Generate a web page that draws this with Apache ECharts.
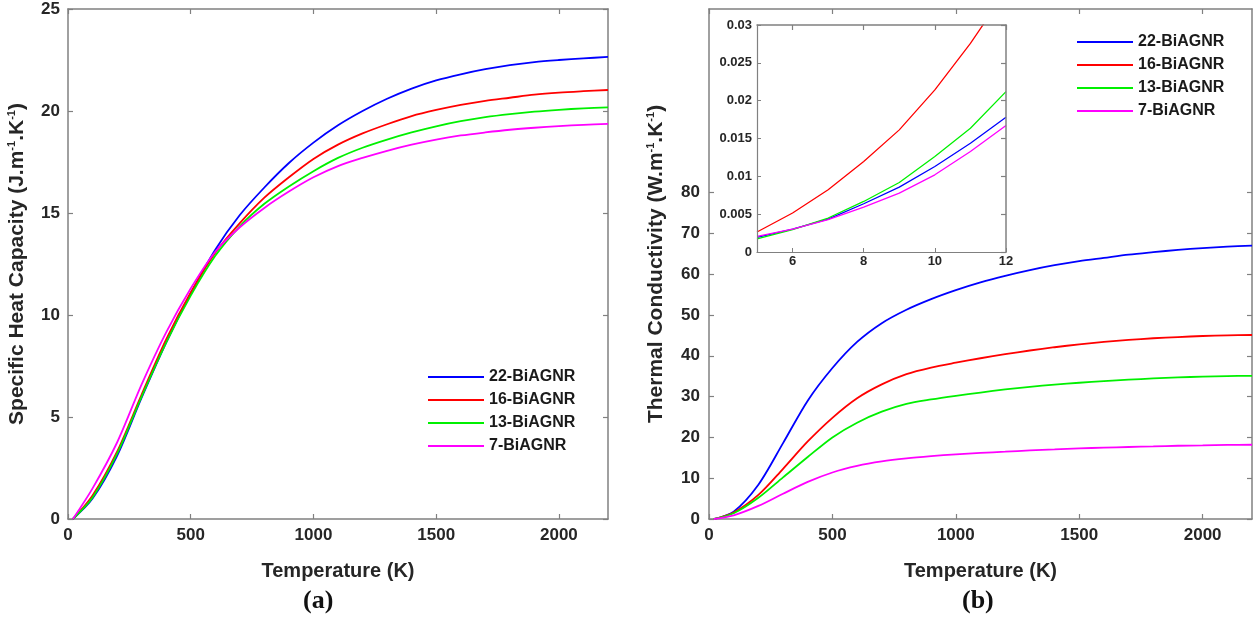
<!DOCTYPE html>
<html>
<head>
<meta charset="utf-8">
<script src="https://cdn.jsdelivr.net/npm/echarts@6/dist/echarts.min.js"></script>
<style>
html,body{margin:0;padding:0;background:#fff;}
#main{width:1257px;height:620px;}
</style>
</head>
<body>
<div id="main"></div>
<script>
// ---------- DATA ----------
const seriesNames = ['22-BiAGNR', '16-BiAGNR', '13-BiAGNR', '7-BiAGNR'];
const seriesColors = ['#0000FF', '#FF0000', '#00F000', '#FF00FF'];

// temperature grid (K) shared by the main panels
const temps = [20, 100, 200, 300, 400, 500, 600, 700, 800, 900, 1000, 1100, 1200, 1300, 1400, 1500, 1600, 1700, 1800, 1900, 2000, 2100, 2200];

// (a) Specific heat capacity (J.m-1.K-1)
const cp22 = [0, 1.0, 3.1, 5.95, 8.65, 11.05, 13.2, 14.9, 16.25, 17.45, 18.45, 19.3, 20.0, 20.6, 21.1, 21.5, 21.8, 22.05, 22.25, 22.4, 22.5, 22.58, 22.65];
const cp16 = [0, 1.15, 3.3, 6.1, 8.8, 11.1, 13.05, 14.5, 15.75, 16.75, 17.65, 18.35, 18.9, 19.35, 19.75, 20.05, 20.3, 20.5, 20.65, 20.8, 20.9, 20.97, 21.03];
const cp13 = [0, 1.05, 3.2, 6.0, 8.65, 10.95, 12.9, 14.35, 15.45, 16.3, 17.05, 17.7, 18.2, 18.6, 18.95, 19.25, 19.5, 19.7, 19.85, 19.97, 20.06, 20.13, 20.18];
const cp7  = [0, 1.5, 3.75, 6.6, 9.15, 11.3, 13.1, 14.3, 15.25, 16.05, 16.75, 17.3, 17.7, 18.05, 18.35, 18.6, 18.8, 18.95, 19.08, 19.18, 19.26, 19.32, 19.37];

// (b) Thermal conductivity (W.m-1.K-1)
const k22 = [0, 1.8, 8.4, 18.6, 29.0, 37.0, 43.4, 48.0, 51.3, 53.9, 56.1, 58.0, 59.6, 61.0, 62.2, 63.2, 64.0, 64.8, 65.4, 65.95, 66.4, 66.75, 67.0];
const k16 = [0, 1.6, 5.9, 12.3, 19.0, 24.8, 29.6, 33.0, 35.5, 37.1, 38.3, 39.4, 40.4, 41.3, 42.1, 42.8, 43.4, 43.9, 44.3, 44.6, 44.85, 45.0, 45.1];
const k13 = [0, 1.4, 5.2, 10.2, 15.2, 20.0, 23.6, 26.3, 28.2, 29.3, 30.2, 31.0, 31.75, 32.4, 32.95, 33.4, 33.8, 34.15, 34.45, 34.7, 34.9, 35.02, 35.1];
const k7  = [0, 0.9, 3.2, 6.2, 9.1, 11.4, 13.0, 14.1, 14.85, 15.4, 15.85, 16.2, 16.5, 16.8, 17.05, 17.3, 17.5, 17.65, 17.8, 17.95, 18.05, 18.15, 18.2];

// (b) inset: low temperature (K)
const tempInset = [5, 6, 7, 8, 9, 10, 11, 12];
const ki22 = [0.00194, 0.00303, 0.00435, 0.00638, 0.00858, 0.0113, 0.01438, 0.01781];
const ki16 = [0.00264, 0.00515, 0.00822, 0.01196, 0.01614, 0.02142, 0.02757, 0.0345];
const ki13 = [0.00172, 0.00295, 0.00449, 0.00668, 0.00919, 0.01262, 0.01636, 0.0212];
const ki7  = [0.00207, 0.00303, 0.00427, 0.00594, 0.00778, 0.0102, 0.01328, 0.01671];

// tick labels
const ticksX = [0, 500, 1000, 1500, 2000];
const ticksYA = [0, 5, 10, 15, 20, 25];
const ticksYB = [0, 10, 20, 30, 40, 50, 60, 70, 80];
const ticksInsetX = [6, 8, 10, 12];
const ticksInsetY = [0, 0.005, 0.01, 0.015, 0.02, 0.025, 0.03];

// ---------- CHART ----------
const FONT = '"Liberation Sans", Arial, sans-serif';
const AXIS_COLOR = '#808080';
const TEXT_COLOR = '#262626';
const plain = v => String(+v.toFixed(4));

function pairs(xs, ys) { return xs.map((x, i) => [x, ys[i]]); }

function mainAxisX(gridIndex, name) {
  return {
    type: 'value', gridIndex, min: 0, max: 2200, interval: 500,
    name, nameLocation: 'middle', nameGap: 42,
    nameTextStyle: { fontFamily: FONT, fontWeight: 'bold', fontSize: 20, color: TEXT_COLOR },
    axisLine: { show: true, onZero: false, lineStyle: { color: AXIS_COLOR, width: 1.5 } },
    axisTick: { show: true, inside: true, length: 5, lineStyle: { color: AXIS_COLOR, width: 1.2 }, customValues: ticksX },
    axisLabel: { fontFamily: FONT, fontWeight: 'bold', fontSize: 17, color: TEXT_COLOR, margin: 8, customValues: ticksX, formatter: plain },
    splitLine: { show: false }
  };
}
function boxAxisX(gridIndex, min, max, ticks) {
  return {
    type: 'value', gridIndex, min, max, position: 'top',
    axisLine: { show: true, onZero: false, lineStyle: { color: AXIS_COLOR, width: 1.5 } },
    axisTick: { show: true, inside: true, length: 5, lineStyle: { color: AXIS_COLOR, width: 1.2 }, customValues: ticks },
    axisLabel: { show: false },
    splitLine: { show: false }
  };
}
function boxAxisY(gridIndex, min, max, ticks) {
  return {
    type: 'value', gridIndex, min, max, position: 'right',
    axisLine: { show: true, onZero: false, lineStyle: { color: AXIS_COLOR, width: 1.5 } },
    axisTick: { show: true, inside: true, length: 5, lineStyle: { color: AXIS_COLOR, width: 1.2 }, customValues: ticks },
    axisLabel: { show: false },
    splitLine: { show: false }
  };
}

const richSup = {
  sup: { fontFamily: FONT, fontWeight: 'bold', fontSize: 11, color: TEXT_COLOR, verticalAlign: 'top', lineHeight: 22, padding: [0, 0, 8, 0] }
};

const chart = echarts.init(document.getElementById('main'), null, { renderer: 'canvas' });

const series = [];
const dataA = [cp22, cp16, cp13, cp7];
const dataB = [k22, k16, k13, k7];
const dataI = [ki22, ki16, ki13, ki7];
seriesNames.forEach((n, i) => {
  series.push({ name: n, type: 'line', xAxisIndex: 0, yAxisIndex: 0, data: pairs(temps, dataA[i]),
    smooth: 0.3, showSymbol: false, symbol: 'none', lineStyle: { color: seriesColors[i], width: 1.8 }, itemStyle: { color: seriesColors[i] }, z: 3 });
});
seriesNames.forEach((n, i) => {
  series.push({ name: n, type: 'line', xAxisIndex: 1, yAxisIndex: 1, data: pairs(temps, dataB[i]),
    smooth: 0.3, showSymbol: false, symbol: 'none', lineStyle: { color: seriesColors[i], width: 1.8 }, itemStyle: { color: seriesColors[i] }, z: 3 });
});
seriesNames.forEach((n, i) => {
  series.push({ name: n, type: 'line', xAxisIndex: 2, yAxisIndex: 2, data: pairs(tempInset, dataI[i]),
    smooth: false, clip: true, showSymbol: false, symbol: 'none', lineStyle: { color: seriesColors[i], width: 1.3 }, itemStyle: { color: seriesColors[i] }, z: 12 });
});

const legendCommon = {
  orient: 'vertical', itemWidth: 56, itemHeight: 14, itemGap: 7, padding: 0,
  itemStyle: { opacity: 0 },
  lineStyle: { width: 2 },
  textStyle: { fontFamily: FONT, fontWeight: 'bold', fontSize: 16, color: '#1a1a1a' },
  data: seriesNames,
  selectedMode: false
};

const option = {
  backgroundColor: '#ffffff',
  animation: false,
  grid: [
    { left: 68, top: 9, width: 540, height: 510, containLabel: false },
    { left: 709, top: 9, width: 543, height: 510, containLabel: false },
    { left: 757, top: 25, width: 249, height: 227, containLabel: false, show: true, backgroundColor: '#ffffff', borderWidth: 0, z: 10 }
  ],
  legend: [
    Object.assign({}, legendCommon, { left: 427, top: 369 }),
    Object.assign({}, legendCommon, { left: 1076, top: 34 })
  ],
  xAxis: [
    mainAxisX(0, 'Temperature (K)'),
    mainAxisX(1, 'Temperature (K)'),
    {
      type: 'value', gridIndex: 2, min: 5, max: 12, interval: 1, z: 13,
      axisLine: { show: true, onZero: false, lineStyle: { color: AXIS_COLOR, width: 1.2 } },
      axisTick: { show: true, inside: true, length: 4, lineStyle: { color: AXIS_COLOR }, customValues: ticksInsetX },
      axisLabel: { fontFamily: FONT, fontWeight: 'bold', fontSize: 13, color: TEXT_COLOR, margin: 3, customValues: ticksInsetX, formatter: plain },
      splitLine: { show: false }
    },
    boxAxisX(0, 0, 2200, ticksX),
    boxAxisX(1, 0, 2200, ticksX),
    Object.assign(boxAxisX(2, 5, 12, ticksInsetX), { z: 13 })
  ],
  yAxis: [
    {
      type: 'value', gridIndex: 0, min: 0, max: 25, interval: 5,
      name: 'Specific Heat Capacity (J.m{sup|-1}.K{sup|-1})', nameLocation: 'middle', nameRotate: 90, nameGap: 40,
      nameTextStyle: { fontFamily: FONT, fontWeight: 'bold', fontSize: 21, color: TEXT_COLOR, lineHeight: 22, rich: richSup },
      axisLine: { show: true, onZero: false, lineStyle: { color: AXIS_COLOR, width: 1.5 } },
      axisTick: { show: true, inside: true, length: 5, lineStyle: { color: AXIS_COLOR, width: 1.2 }, customValues: ticksYA },
      axisLabel: { fontFamily: FONT, fontWeight: 'bold', fontSize: 17, color: TEXT_COLOR, margin: 8, customValues: ticksYA, formatter: plain },
      splitLine: { show: false }
    },
    {
      type: 'value', gridIndex: 1, min: 0, max: 125, interval: 10,
      name: 'Thermal Conductivity (W.m{sup|-1}.K{sup|-1})', nameLocation: 'middle', nameRotate: 90, nameGap: 42,
      nameTextStyle: { fontFamily: FONT, fontWeight: 'bold', fontSize: 21, color: TEXT_COLOR, lineHeight: 22, rich: richSup },
      axisLine: { show: true, onZero: false, lineStyle: { color: AXIS_COLOR, width: 1.5 } },
      axisTick: { show: true, inside: true, length: 5, lineStyle: { color: AXIS_COLOR, width: 1.2 }, customValues: ticksYB },
      axisLabel: { fontFamily: FONT, fontWeight: 'bold', fontSize: 17, color: TEXT_COLOR, margin: 9, customValues: ticksYB, formatter: plain },
      splitLine: { show: false }
    },
    {
      type: 'value', gridIndex: 2, min: 0, max: 0.03, interval: 0.005, z: 13,
      axisLine: { show: true, onZero: false, lineStyle: { color: AXIS_COLOR, width: 1.2 } },
      axisTick: { show: true, inside: true, length: 4, lineStyle: { color: AXIS_COLOR }, customValues: ticksInsetY },
      axisLabel: { fontFamily: FONT, fontWeight: 'bold', fontSize: 13, color: TEXT_COLOR, margin: 5, customValues: ticksInsetY, formatter: plain },
      splitLine: { show: false }
    },
    boxAxisY(0, 0, 25, ticksYA),
    boxAxisY(1, 0, 125, ticksYB),
    Object.assign(boxAxisY(2, 0, 0.03, ticksInsetY), { z: 13 })
  ],
  graphic: [
    { type: 'text', left: 303, top: 588, style: { text: '(a)', font: 'bold 26px "Liberation Serif", "Times New Roman", serif', fill: '#111' } },
    { type: 'text', left: 962, top: 588, style: { text: '(b)', font: 'bold 26px "Liberation Serif", "Times New Roman", serif', fill: '#111' } }
  ],
  series
};
chart.setOption(option);
</script>
</body>
</html>
